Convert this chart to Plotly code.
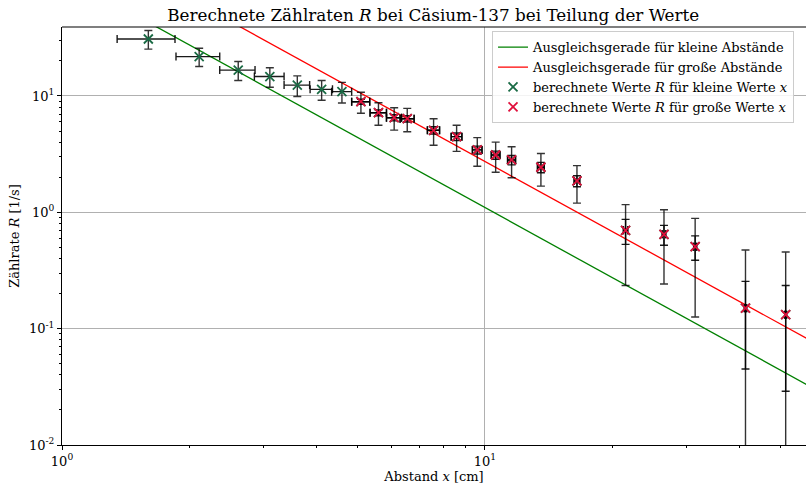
import plotly.graph_objects as go

# ---- data ----
x_all = [1.60, 2.11, 2.61, 3.10, 3.60, 4.11, 4.59, 5.09, 5.60, 6.10, 6.55, 7.56,
         8.57, 9.59, 10.6, 11.56, 13.56, 16.5, 21.5, 26.5, 31.4, 41.3, 51.4]
R_all = [30.9, 21.8, 16.7, 14.7, 12.4, 11.4, 10.9, 8.93, 7.18, 6.51, 6.38, 5.07,
         4.47, 3.44, 3.11, 2.82, 2.44, 1.86, 0.70, 0.647, 0.507, 0.150, 0.132]
R_err_outer = [5.6, 3.9, 3.1, 2.8, 2.5, 2.2, 2.2, 1.83, 1.57, 1.42, 1.45, 1.30,
               1.13, 0.95, 0.90, 0.84, 0.76, 0.66, 0.465, 0.405, 0.381, 0.324, 0.324]
x_err = [0.25] * 23

n_small = 7  # first 7 points: "kleine Werte x"
x_large = x_all[n_small:]
R_large = R_all[n_small:]
R_err_inner = [0.45, 0.42, 0.40, 0.40, 0.37, 0.34, 0.27, 0.25, 0.26, 0.25, 0.20,
               0.17, 0.126, 0.12, 0.105, 0.103]
x_err_large = [0.25] * len(x_large)

# fit lines (end points)
fit_small_x = [1.0, 60.0]
fit_small_y = [109.9, 0.0305]
fit_large_x = [1.0, 60.0]
fit_large_y = [273.5, 0.076]

x_tickvals = [1, 10]
x_ticktext = ["10<sup>0</sup>", "10<sup>1</sup>"]
y_tickvals = [0.01, 0.1, 1, 10]
y_ticktext = ["10<sup>-2</sup>", "10<sup>-1</sup>", "10<sup>0</sup>", "10<sup>1</sup>"]
x_minor = [2, 3, 4, 5, 6, 7, 8, 9, 20, 30, 40, 50]
y_minor = [m * 10 ** e for e in (-2, -1, 0, 1) for m in range(2, 10)]

FONT = "DejaVu Serif"

fig = go.Figure()

fig.add_trace(go.Scatter(
    x=fit_small_x, y=fit_small_y, mode="lines",
    line=dict(color="#008000", width=1.3),
    name="Ausgleichsgerade für kleine Abstände"))
fig.add_trace(go.Scatter(
    x=fit_large_x, y=fit_large_y, mode="lines",
    line=dict(color="#ff0000", width=1.3),
    name="Ausgleichsgerade für große Abstände"))

fig.add_trace(go.Scatter(
    x=x_all, y=R_all, mode="markers",
    marker=dict(symbol="x-thin", size=9, color="#1a6b45",
                line=dict(width=1.8, color="#1a6b45")),
    error_y=dict(type="data", array=R_err_outer, color="rgba(0,0,0,0.8)",
                 thickness=1.4, width=4),
    error_x=dict(type="data", array=x_err, color="rgba(0,0,0,0.9)",
                 thickness=1.4, width=4),
    name="berechnete Werte <i>R</i> für kleine Werte <i>x</i>"))

fig.add_trace(go.Scatter(
    x=x_large, y=R_large, mode="markers",
    marker=dict(symbol="x-thin", size=9, color="#e0103c",
                line=dict(width=1.8, color="#e0103c")),
    error_y=dict(type="data", array=R_err_inner, color="rgba(0,0,0,0.9)",
                 thickness=1.4, width=4),
    error_x=dict(type="data", array=x_err_large, color="rgba(0,0,0,0.9)",
                 thickness=1.4, width=4),
    name="berechnete Werte <i>R</i> für große Werte <i>x</i>"))

fig.update_layout(
    width=806, height=484,
    margin=dict(l=62, r=0, t=27, b=39, autoexpand=False),
    paper_bgcolor="white", plot_bgcolor="white",
    font=dict(family=FONT, size=13, color="black"),
    title=dict(text="Berechnete Zählraten <i>R</i> bei Cäsium-137 bei Teilung der Werte",
               x=0.5375, xanchor="center", y=0.968, yanchor="middle",
               font=dict(family=FONT, size=16.8)),
    legend=dict(x=0.578, y=0.99, xanchor="left", yanchor="top",
                bgcolor="rgba(255,255,255,0.85)", bordercolor="#cccccc", borderwidth=1,
                font=dict(family=FONT, size=13)),
    showlegend=True,
)

fig.update_xaxes(
    type="log", range=[0, 1.759], automargin=False,
    tickvals=x_tickvals, ticktext=x_ticktext,
    ticks="outside", ticklen=4, tickcolor="black",
    showline=True, linecolor="black", linewidth=1.2,
    showgrid=True, gridcolor="#b0b0b0", gridwidth=1,
    zeroline=False,
    minor=dict(tickvals=x_minor, ticks="outside", ticklen=2, tickcolor="black", showgrid=False),
    title=dict(text="Abstand <i>x</i> [cm]", font=dict(family=FONT, size=13), standoff=4),
    tickfont=dict(family=FONT, size=13),
)
fig.update_yaxes(
    type="log", range=[-2, 1.593], automargin=False,
    tickvals=y_tickvals, ticktext=y_ticktext,
    ticks="outside", ticklen=4, tickcolor="black",
    showline=True, linecolor="black", linewidth=1.2,
    showgrid=True, gridcolor="#b0b0b0", gridwidth=1,
    zeroline=False,
    minor=dict(tickvals=y_minor, ticks="outside", ticklen=2, tickcolor="black", showgrid=False),
    title=dict(text="Zählrate <i>R</i> [1/s]", font=dict(family=FONT, size=13), standoff=6),
    tickfont=dict(family=FONT, size=13),
)

fig.add_shape(type="line", xref="paper", yref="paper", x0=0, x1=1, y0=1, y1=1,
              line=dict(color="black", width=1.2))

fig.write_html("out.html", config={"displayModeBar": False},
               post_script="document.body.style.margin='0';")
